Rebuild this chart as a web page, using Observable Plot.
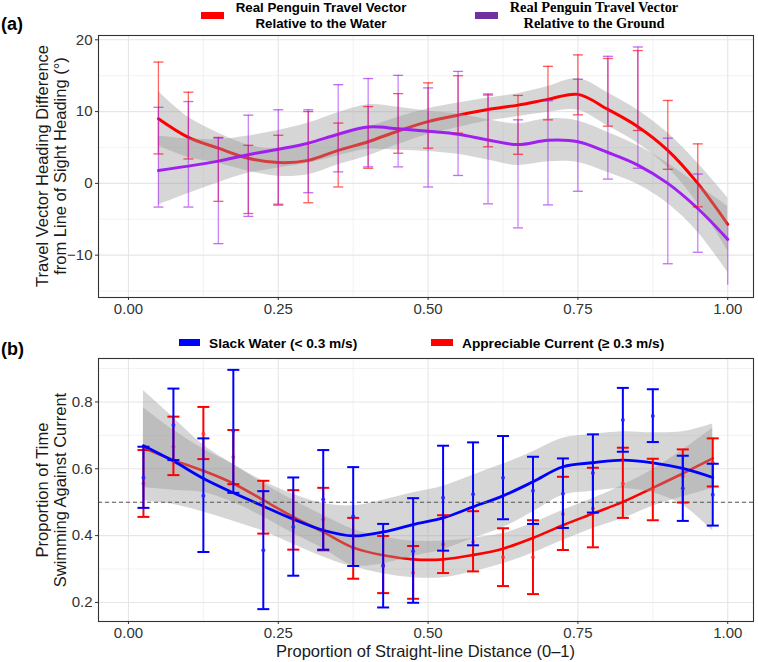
<!DOCTYPE html>
<html><head><meta charset="utf-8">
<script src="https://cdn.jsdelivr.net/npm/d3@7"></script>
<script src="https://cdn.jsdelivr.net/npm/@observablehq/plot@0.6"></script>
<style>
body{margin:0;background:#fff;}
#wrap{position:relative;width:758px;height:662px;overflow:hidden;font-family:"Liberation Sans",Arial,sans-serif;color:#000;}
.abs{position:absolute;white-space:nowrap;}
.ytitle{position:absolute;width:320px;text-align:center;font-size:16.5px;line-height:18px;transform:rotate(-90deg);color:#1a1a1a;}
.sw{position:absolute;height:7px;width:23px;}
.lgA1{font-weight:bold;font-size:13.3px;line-height:15.5px;text-align:center;}
.lgA2{font-family:"Liberation Serif","Times New Roman",serif;font-weight:bold;font-size:14.4px;line-height:15.5px;text-align:center;}
.lgB{font-weight:bold;font-size:13.7px;line-height:16px;}
.tag{font-weight:bold;font-size:18px;line-height:20px;}
</style></head><body><div id="wrap"></div>
<script>
// ---------- Panel (a) data ----------
const xA = [0.05,0.10,0.15,0.20,0.25,0.30,0.35,0.40,0.45,0.50,0.55,0.60,0.65,0.70,0.75,0.80,0.85,0.90,0.95,1.00];
const waterFit = [9.0,6.4,4.9,3.5,2.9,3.2,4.6,5.8,7.3,8.6,9.5,10.3,10.9,11.7,12.4,10.3,7.9,4.6,0.0,-5.7];
const waterLo  = [5.2,3.6,2.8,1.7,1.0,1.2,2.6,3.8,5.4,6.8,7.8,8.7,9.3,9.9,10.2,8.0,5.6,2.2,-2.8,-9.4];
const waterHi  = [12.8,9.2,7.0,5.3,4.8,5.2,6.6,7.8,9.2,10.4,11.2,11.9,12.5,13.5,14.6,12.6,10.2,7.0,2.8,-2.0];
const groundFit = [1.8,2.4,3.1,4.0,4.75,5.6,6.85,7.85,7.6,7.25,6.85,6.05,5.4,6.0,5.8,4.3,2.55,0.0,-3.5,-7.8];
const groundLo  = [-3.0,-1.4,0.1,1.4,2.15,2.8,3.85,4.75,4.6,4.45,4.05,3.25,2.5,3.0,2.9,1.5,-0.15,-2.8,-6.8,-12.4];
const groundHi  = [6.6,6.2,6.1,6.6,7.35,8.4,9.85,10.95,10.6,10.05,9.65,8.85,8.3,9.0,8.7,7.1,5.25,2.8,-0.2,-3.2];
const waterBarHi = [16.9,12.7,6.4,5.3,6.7,10.0,8.4,10.7,12.5,14.0,15.0,12.45,12.25,16.3,17.9,17.4,18.5,11.55,5.5,null];
const waterBarLo = [4.1,3.4,-2.5,-4.2,-2.9,-2.7,-0.5,2.1,4.2,4.9,7.0,5.1,4.05,8.85,9.55,7.97,7.36,1.96,-3.27,null];
const groundBarHi = [10.6,11.4,6.3,9.5,10.25,10.25,13.75,14.6,15.05,13.3,15.6,12.3,8.85,11.5,14.5,17.7,19.0,6.3,1.3,-5.8];
const groundBarLo = [-3.3,-3.3,-8.4,-4.6,-3.05,-1.3,1.6,2.3,2.3,-0.5,1.1,-2.85,-6.2,-3.0,-1.1,0.6,2.1,-11.2,-9.6,-14.2];
const yTicksA = [-10,0,10,20];
const yMinorA = [-15,-5,5,15];

// ---------- Panel (b) data ----------
const xB = [0.025,0.075,0.125,0.175,0.225,0.275,0.325,0.375,0.425,0.475,0.525,0.575,0.625,0.675,0.725,0.775,0.825,0.875,0.925,0.975];
const slackMean = [0.573,0.731,0.519,0.713,0.356,0.426,0.508,0.458,0.309,0.353,0.513,0.524,0.573,0.534,0.525,0.587,0.746,0.758,0.542,0.522];
const slackLo   = [0.483,0.626,0.351,0.528,0.180,0.280,0.358,0.309,0.185,0.199,0.355,0.371,0.449,0.435,0.423,0.469,0.651,0.680,0.444,0.430];
const slackHi   = [0.666,0.840,0.691,0.896,0.533,0.574,0.656,0.605,0.435,0.512,0.669,0.679,0.698,0.636,0.631,0.703,0.842,0.838,0.639,0.615];
const currentMean = [0.556,0.666,0.705,0.635,0.486,0.447,0.448,0.362,0.313,0.289,0.374,0.381,0.335,0.335,0.465,0.481,0.556,0.538,0.578,0.619];
const currentLo   = [0.456,0.581,0.629,0.554,0.406,0.358,0.356,0.271,0.228,0.211,0.288,0.293,0.249,0.225,0.357,0.365,0.453,0.446,0.499,0.547];
const currentHi   = [0.656,0.756,0.785,0.716,0.564,0.536,0.543,0.453,0.399,0.369,0.461,0.473,0.422,0.446,0.576,0.603,0.663,0.630,0.658,0.691];
const slackFit = [0.669,0.623,0.571,0.528,0.488,0.449,0.416,0.399,0.411,0.433,0.453,0.486,0.519,0.561,0.606,0.618,0.626,0.618,0.601,0.574];
const slackFitLo = [0.504,0.493,0.471,0.443,0.413,0.374,0.336,0.309,0.316,0.338,0.358,0.391,0.424,0.471,0.521,0.533,0.541,0.528,0.491,0.414];
const slackFitHi = [0.834,0.753,0.671,0.613,0.563,0.524,0.496,0.489,0.506,0.528,0.548,0.581,0.614,0.651,0.691,0.703,0.711,0.708,0.711,0.734];
const currentFit = [0.663,0.626,0.594,0.556,0.506,0.456,0.411,0.364,0.341,0.329,0.329,0.342,0.361,0.393,0.431,0.466,0.501,0.543,0.586,0.631];
const currentFitLo = [0.543,0.536,0.529,0.499,0.456,0.406,0.361,0.309,0.286,0.274,0.274,0.292,0.316,0.348,0.386,0.421,0.451,0.488,0.516,0.541];
const currentFitHi = [0.783,0.716,0.659,0.613,0.556,0.506,0.461,0.419,0.396,0.384,0.384,0.392,0.406,0.438,0.476,0.511,0.551,0.598,0.656,0.721];
const refLine = [0.5];
const yTicksB = [0.2,0.4,0.6,0.8];
const yMinorB = [0.3,0.5,0.7,0.9];

const xTicks = [0,0.25,0.5,0.75,1];
const xMinor = [0.125,0.375,0.625,0.875];

// ---------- helpers ----------
const capSym = {draw(ctx, size){const r=Math.sqrt(size/Math.PI); ctx.moveTo(-r,0); ctx.lineTo(r,0);}};
const font = "Liberation Sans, Arial, sans-serif";
const wrap = document.getElementById("wrap");
function place(el, top){ el.style.position="absolute"; el.style.left="0px"; el.style.top=top+"px"; wrap.appendChild(el); }
function div(cls, html, css){ const d=document.createElement("div"); d.className=cls; d.innerHTML=html; Object.assign(d.style, css); wrap.appendChild(d); return d; }
const gridMarks = (yMaj, yMin) => [
  Plot.gridX(xMinor, {stroke:"#ebebeb", strokeOpacity:1, strokeWidth:0.6}),
  Plot.gridY(yMin, {stroke:"#ebebeb", strokeOpacity:1, strokeWidth:0.6}),
  Plot.gridX(xTicks, {stroke:"#e6e6e6", strokeOpacity:1, strokeWidth:1.1}),
  Plot.gridY(yMaj, {stroke:"#e6e6e6", strokeOpacity:1, strokeWidth:1.1})
];
const axes = (yMaj, fmt) => [
  Plot.frame({stroke:"#333", strokeWidth:1.1}),
  Plot.axisX(xTicks, {tickFormat: d3.format(".2f"), tickSize:3, tickPadding:3, fontSize:15, color:"#333", label:null}),
  Plot.axisY(yMaj, {tickFormat: fmt, tickSize:3, tickPadding:3, fontSize:15, color:"#333", label:null})
];

// ---------- Panel (a) ----------
const dA = xA.map((x,i)=>({x, wf:waterFit[i], wl:waterLo[i], wh:waterHi[i], gf:groundFit[i], gl:groundLo[i], gh:groundHi[i],
  wbl:waterBarLo[i], wbh:waterBarHi[i], gbl:groundBarLo[i], gbh:groundBarHi[i]}));
const capsW = dA.filter(d=>d.wbl!=null).flatMap(d=>[{x:d.x,y:d.wbl},{x:d.x,y:d.wbh}]);
const capsG = dA.filter(d=>d.x<1).flatMap(d=>[{x:d.x,y:d.gbl},{x:d.x,y:d.gbh}]);
const cv = "catmull-rom";
const plotA = Plot.plot({
  width:758, height:330, marginTop:35, marginBottom:33, marginLeft:98, marginRight:5,
  style:{fontFamily:font, background:"transparent"},
  x:{domain:[-0.05,1.043]}, y:{domain:[-15.9,20.6]},
  marks:[
    ...gridMarks(yTicksA, yMinorA),
    Plot.areaY(dA, {x:"x", y1:"wl", y2:"wh", fill:"#999", fillOpacity:0.4, curve:cv}),
    Plot.line(dA, {x:"x", y:"wf", stroke:"#ff0000", strokeWidth:3, curve:cv}),
    Plot.areaY(dA, {x:"x", y1:"gl", y2:"gh", fill:"#999", fillOpacity:0.4, curve:cv}),
    Plot.line(dA, {x:"x", y:"gf", stroke:"#a020f0", strokeWidth:3, curve:cv}),
    Plot.ruleX(dA.filter(d=>d.wbl!=null), {x:"x", y1:"wbl", y2:"wbh", stroke:"#ff0000", strokeOpacity:0.6, strokeWidth:1.3}),
    Plot.dot(capsW, {x:"x", y:"y", symbol:capSym, r:5, stroke:"#ff0000", strokeOpacity:0.65, strokeWidth:1.3, fill:"none"}),
    Plot.ruleX(dA, {x:"x", y1:"gbl", y2:"gbh", stroke:"#a020f0", strokeOpacity:0.55, strokeWidth:1.3}),
    Plot.dot(capsG, {x:"x", y:"y", symbol:capSym, r:5, stroke:"#a020f0", strokeOpacity:0.65, strokeWidth:1.3, fill:"none"}),
    ...axes(yTicksA, d3.format("d"))
  ]
});
place(plotA, 0);

// ---------- Panel (b) ----------
const dB = xB.map((x,i)=>({x, sm:slackMean[i], sl:slackLo[i], sh:slackHi[i], cm:currentMean[i], cl:currentLo[i], ch:currentHi[i],
  sf:slackFit[i], sfl:slackFitLo[i], sfh:slackFitHi[i], cf:currentFit[i], cfl:currentFitLo[i], cfh:currentFitHi[i]}));
const capsS = dB.flatMap(d=>[{x:d.x,y:d.sl},{x:d.x,y:d.sh}]);
const capsC = dB.flatMap(d=>[{x:d.x,y:d.cl},{x:d.x,y:d.ch}]);
const plotB = Plot.plot({
  width:758, height:332, marginTop:28, marginBottom:41, marginLeft:98, marginRight:5,
  style:{fontFamily:font, background:"transparent"},
  x:{domain:[-0.05,1.043]}, y:{domain:[0.143,0.93]},
  marks:[
    ...gridMarks(yTicksB, yMinorB),
    Plot.areaY(dB, {x:"x", y1:"cfl", y2:"cfh", fill:"#999", fillOpacity:0.4, curve:cv}),
    Plot.line(dB, {x:"x", y:"cf", stroke:"#ff0000", strokeWidth:2.6, curve:cv}),
    Plot.areaY(dB, {x:"x", y1:"sfl", y2:"sfh", fill:"#999", fillOpacity:0.4, curve:cv}),
    Plot.line(dB, {x:"x", y:"sf", stroke:"#0000ff", strokeWidth:2.8, curve:cv}),
    Plot.ruleY(refLine, {stroke:"#555", strokeDasharray:"4,3", strokeWidth:1.1}),
    Plot.ruleX(dB, {x:"x", y1:"cl", y2:"ch", stroke:"#ff0000", strokeWidth:2}),
    Plot.dot(capsC, {x:"x", y:"y", symbol:capSym, r:6, stroke:"#ff0000", strokeWidth:2, fill:"none"}),
    Plot.dot(dB, {x:"x", y:"cm", r:2, fill:"#ff3030", fillOpacity:0.75, stroke:"none"}),
    Plot.ruleX(dB, {x:"x", y1:"sl", y2:"sh", stroke:"#0000ff", strokeWidth:2}),
    Plot.dot(capsS, {x:"x", y:"y", symbol:capSym, r:6, stroke:"#0000ff", strokeWidth:2, fill:"none"}),
    Plot.dot(dB, {x:"x", y:"sm", r:2, fill:"#2020ff", fillOpacity:0.85, stroke:"none"}),
    ...axes(yTicksB, d3.format(".1f"))
  ]
});
place(plotB, 330);

// ---------- titles and legends ----------
div("tag abs", "(a)", {left:"1px", top:"14px"});
div("tag abs", "(b)", {left:"1px", top:"339px"});
div("ytitle", "Travel Vector Heading Difference<br>from Line of Sight Heading (°)", {left:(51-160)+"px", top:(166-18)+"px"});
div("ytitle", "Proportion of Time<br>Swimming Against Current", {left:(51-160)+"px", top:(489.5-18)+"px"});
div("abs", "Proportion of Straight-line Distance (0–1)", {left:"0px", width:"851px", textAlign:"center", top:"643px", fontSize:"16.5px", lineHeight:"16.5px", color:"#1a1a1a"});

div("sw", "", {left:"201px", top:"12px", background:"#ff0000"});
div("abs lgA1", "Real Penguin Travel Vector<br>Relative to the Water", {left:"221px", width:"200px", top:"0px"});
div("sw", "", {left:"475px", top:"12px", background:"#7030a0"});
div("abs lgA2", "Real Penguin Travel Vector<br>Relative to the Ground", {left:"494px", width:"200px", top:"0px"});

div("sw", "", {left:"179px", top:"339px", width:"21px", background:"#0000ff"});
div("abs lgB", "Slack Water (&lt; 0.3 m/s)", {left:"209px", top:"336px"});
div("sw", "", {left:"431px", top:"339px", width:"22px", background:"#ff0000"});
div("abs lgB", "Appreciable Current (≥ 0.3 m/s)", {left:"462px", top:"336px"});
</script></body></html>
